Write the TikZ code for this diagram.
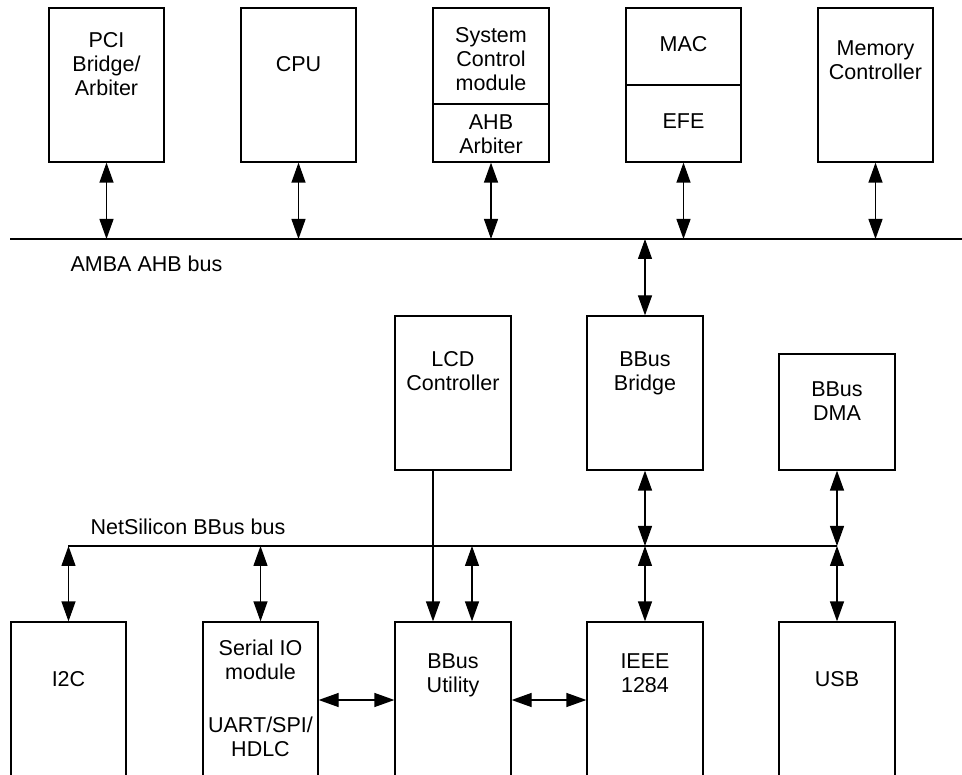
\documentclass[tikz,border=0pt]{standalone}
\usepackage{fontspec}
\setmainfont{Liberation Sans}
\usetikzlibrary{arrows.meta}
\begin{document}
\begin{tikzpicture}[x=1pt,y=-1pt,line width=1.25pt,
  box/.style={draw,rectangle,inner sep=0pt,minimum width=115pt},
  txt/.style={inner sep=0pt,anchor=base,font=\fontsize{21.5}{24}\selectfont},
  lbl/.style={inner sep=0pt,anchor=base west,font=\fontsize{21.5}{24}\selectfont},
  dbl/.style={{Triangle[length=20pt,width=14pt]}-{Triangle[length=20pt,width=14pt]}},
  one/.style={-{Triangle[length=20pt,width=14pt]}}]
\useasboundingbox (0,0) rectangle (962,775);
\fill[white] (0,0) rectangle (962,775);
\clip (0,0) rectangle (962,775);
% top boxes
\node[box,minimum height=154pt] (pci) at (106.5,85) {};
\node[box,minimum height=154pt] (cpu) at (298.5,85) {};
\node[box,minimum height=154pt,minimum width=116pt] (sys) at (491,85) {};
\node[box,minimum height=154pt] (mac) at (683.5,85) {};
\node[box,minimum height=154pt] (mem) at (875.5,85) {};
\draw ([yshift=-19pt]sys.west) -- ([yshift=-19pt]sys.east);
\draw (mac.west) -- (mac.east);
% middle boxes
\node[box,minimum height=154pt,minimum width=116pt] (lcd) at (453,393) {};
\node[box,minimum height=154pt,minimum width=116pt] (bridge) at (645,393) {};
\node[box,minimum height=116pt,minimum width=116pt] (dma) at (837,412) {};
% bottom boxes
\node[box,minimum height=200pt] (i2c) at (68.5,722) {};
\node[box,minimum height=200pt] (sio) at (260.5,722) {};
\node[box,minimum height=200pt,minimum width=116pt] (util) at (453,722) {};
\node[box,minimum height=200pt,minimum width=116pt] (ieee) at (645,722) {};
\node[box,minimum height=200pt,minimum width=116pt] (usb) at (837,722) {};
% AHB bus
\coordinate (ahb) at (10,239);
\coordinate (ahbE) at (962,239);
\draw (ahb) -- (ahbE);
\draw[dbl] (pci.south) -- (pci.south |- ahb);
\draw[dbl] (cpu.south) -- (cpu.south |- ahb);
\draw[dbl] (sys.south) -- (sys.south |- ahb);
\draw[dbl] (mac.south) -- (mac.south |- ahb);
\draw[dbl] (mem.south) -- (mem.south |- ahb);
\draw[dbl] (ahb -| bridge.north) -- (bridge.north);
% BBus
\coordinate (bb) at (68,546);
\coordinate (bbE) at (837,546);
\draw (bb) -- (bbE);
\draw[dbl] (bridge.south) -- (bridge.south |- bb);
\draw[dbl] (dma.south) -- (dma.south |- bb);
\draw[dbl] (bb -| i2c.north) -- (i2c.north);
\draw[dbl] (bb -| sio.north) -- (sio.north);
\draw[dbl] (bb -| ieee.north) -- (ieee.north);
\draw[dbl] (bb -| usb.north) -- (usb.north);
\draw[one] ([xshift=-20pt]lcd.south) -- ([xshift=-20pt]util.north);
\coordinate (u2) at ([xshift=19pt]util.north);
\draw[dbl] (bb -| u2) -- (u2);
\coordinate (hrow) at (0,700);
\draw[dbl] (sio.east |- hrow) -- (util.west |- hrow);
\draw[dbl] (util.east |- hrow) -- (ieee.west |- hrow);
% texts
\node[txt] (t1) at (106.5,48) {PCI};
\node[txt] (t2) at (106.5,72) {Bridge/};
\node[txt] (t3) at (106.5,96) {Arbiter};
\node[txt] (t4) at (298.5,72) {CPU};
\node[txt] (t5) at (491,43) {System};
\node[txt] (t6) at (491,67) {Control};
\node[txt] (t7) at (491,91) {module};
\node[txt] (t8) at (491,130) {AHB};
\node[txt] (t9) at (491,154) {Arbiter};
\node[txt] (t10) at (683.5,52) {MAC};
\node[txt] (t11) at (683.5,129) {EFE};
\node[txt] (t12) at (875.5,56) {Memory};
\node[txt] (t13) at (875.5,80) {Controller};
\node[txt] (t14) at (453,367) {LCD};
\node[txt] (t15) at (453,391) {Controller};
\node[txt] (t16) at (645,367) {BBus};
\node[txt] (t17) at (645,391) {Bridge};
\node[txt] (t18) at (837,397) {BBus};
\node[txt] (t19) at (837,421) {DMA};
\node[txt] (t20) at (68.5,686) {I2C};
\node[txt] (t21) at (260.5,655) {Serial IO};
\node[txt] (t22) at (260.5,679) {module};
\node[txt] (t23) at (260.5,732) {UART/SPI/};
\node[txt] (t24) at (260.5,756) {HDLC};
\node[txt] (t25) at (453,668) {BBus};
\node[txt] (t26) at (453,692) {Utility};
\node[txt] (t27) at (645,668) {IEEE};
\node[txt] (t28) at (645,692) {1284};
\node[txt] (t29) at (837,686) {USB};
\node[lbl] (l1) at (70,272) {AMBA AHB bus};
\node[lbl] (l2) at (90,535) {NetSilicon BBus bus};
\end{tikzpicture}
\end{document}
